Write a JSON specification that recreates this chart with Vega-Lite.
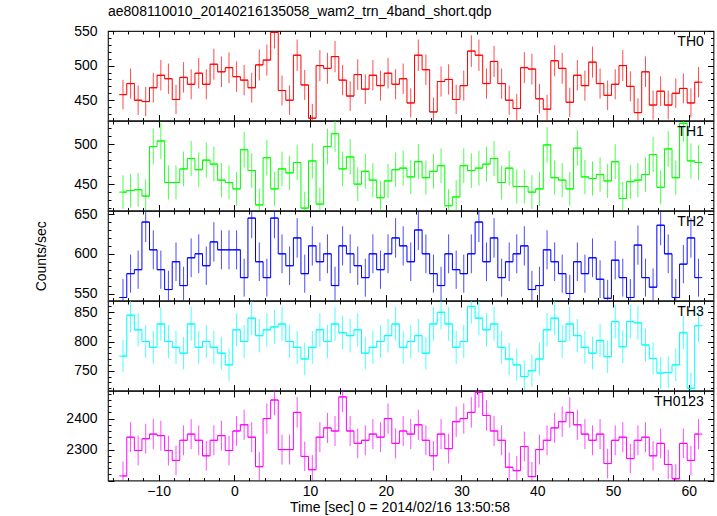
{
  "$schema": "https://vega.github.io/schema/vega-lite/v6.json",
  "background": "white",
  "padding": {"left": 33, "top": 5, "right": 5, "bottom": 0},
  "title": {"text": "ae808110010_20140216135058_wam2_trn_4band_short.qdp", "anchor": "start", "frame": "group", "font": "Liberation Sans", "fontSize": 14, "fontWeight": "normal", "color": "black", "offset": 4},
  "datasets": {
    "TH0": [
      {"t":-14.7,"r":458,"e":21.4},{"t":-13.7,"r":474,"e":21.8},{"t":-12.7,"r":450,"e":21.2},{"t":-11.7,"r":448,"e":21.2},{"t":-10.7,"r":468,"e":21.6},
      {"t":-9.7,"r":486,"e":22},{"t":-8.7,"r":481,"e":21.9},{"t":-7.7,"r":451,"e":21.2},{"t":-6.7,"r":483,"e":22},{"t":-5.7,"r":473,"e":21.7},
      {"t":-4.7,"r":489,"e":22.1},{"t":-3.7,"r":473,"e":21.7},{"t":-2.7,"r":502,"e":22.4},{"t":-1.7,"r":491,"e":22.2},{"t":-0.7,"r":497,"e":22.3},
      {"t":0.3,"r":484,"e":22},{"t":1.3,"r":479,"e":21.9},{"t":2.3,"r":468,"e":21.6},{"t":3.3,"r":501,"e":22.4},{"t":4.3,"r":508,"e":22.5},
      {"t":5.3,"r":548,"e":23.4},{"t":6.3,"r":464,"e":21.5},{"t":7.3,"r":450,"e":21.2},{"t":8.3,"r":515,"e":22.7},{"t":9.3,"r":472,"e":21.7},
      {"t":10.3,"r":424,"e":20.6},{"t":11.3,"r":500,"e":22.4},{"t":12.3,"r":496,"e":22.3},{"t":13.3,"r":513,"e":22.6},{"t":14.3,"r":479,"e":21.9},
      {"t":15.3,"r":456,"e":21.4},{"t":16.3,"r":487,"e":22.1},{"t":17.3,"r":466,"e":21.6},{"t":18.3,"r":486,"e":22},{"t":19.3,"r":471,"e":21.7},
      {"t":20.3,"r":489,"e":22.1},{"t":21.3,"r":473,"e":21.7},{"t":22.3,"r":481,"e":21.9},{"t":23.3,"r":446,"e":21.1},{"t":24.3,"r":515,"e":22.7},
      {"t":25.3,"r":494,"e":22.2},{"t":26.3,"r":433,"e":20.8},{"t":27.3,"r":477,"e":21.8},{"t":28.3,"r":480,"e":21.9},{"t":29.3,"r":451,"e":21.2},
      {"t":30.3,"r":471,"e":21.7},{"t":31.3,"r":521,"e":22.8},{"t":32.3,"r":515,"e":22.7},{"t":33.3,"r":474,"e":21.8},{"t":34.3,"r":506,"e":22.5},
      {"t":35.3,"r":474,"e":21.8},{"t":36.3,"r":450,"e":21.2},{"t":37.3,"r":438,"e":20.9},{"t":38.3,"r":497,"e":22.3},{"t":39.3,"r":495,"e":22.2},
      {"t":40.3,"r":452,"e":21.3},{"t":41.3,"r":437,"e":20.9},{"t":42.3,"r":507,"e":22.5},{"t":43.3,"r":496,"e":22.3},{"t":44.3,"r":447,"e":21.1},
      {"t":45.3,"r":486,"e":22},{"t":46.3,"r":471,"e":21.7},{"t":47.3,"r":505,"e":22.5},{"t":48.3,"r":474,"e":21.8},{"t":49.3,"r":457,"e":21.4},
      {"t":50.3,"r":473,"e":21.7},{"t":51.3,"r":500,"e":22.4},{"t":52.3,"r":470,"e":21.7},{"t":53.3,"r":432,"e":20.8},{"t":54.3,"r":491,"e":22.2},
      {"t":55.3,"r":443,"e":21},{"t":56.3,"r":463,"e":21.5},{"t":57.3,"r":443,"e":21},{"t":58.3,"r":460,"e":21.4},{"t":59.3,"r":467,"e":21.6},
      {"t":60.3,"r":446,"e":21.1},{"t":61.3,"r":476,"e":21.8}
    ],
    "TH1": [
      {"t":-14.7,"r":440,"e":21},{"t":-13.7,"r":442,"e":21},{"t":-12.7,"r":443,"e":21},{"t":-11.7,"r":435,"e":20.9},{"t":-10.7,"r":497,"e":22.3},
      {"t":-9.7,"r":504,"e":22.4},{"t":-8.7,"r":452,"e":21.3},{"t":-7.7,"r":452,"e":21.3},{"t":-6.7,"r":469,"e":21.7},{"t":-5.7,"r":482,"e":22},
      {"t":-4.7,"r":468,"e":21.6},{"t":-3.7,"r":480,"e":21.9},{"t":-2.7,"r":475,"e":21.8},{"t":-1.7,"r":455,"e":21.3},{"t":-0.7,"r":452,"e":21.3},
      {"t":0.3,"r":444,"e":21.1},{"t":1.3,"r":493,"e":22.2},{"t":2.3,"r":467,"e":21.6},{"t":3.3,"r":424,"e":20.6},{"t":4.3,"r":483,"e":22},
      {"t":5.3,"r":444,"e":21.1},{"t":6.3,"r":469,"e":21.7},{"t":7.3,"r":464,"e":21.5},{"t":8.3,"r":477,"e":21.8},{"t":9.3,"r":420,"e":20.5},
      {"t":10.3,"r":479,"e":21.9},{"t":11.3,"r":425,"e":20.6},{"t":12.3,"r":497,"e":22.3},{"t":13.3,"r":513,"e":22.6},{"t":14.3,"r":469,"e":21.7},
      {"t":15.3,"r":484,"e":22},{"t":16.3,"r":450,"e":21.2},{"t":17.3,"r":466,"e":21.6},{"t":18.3,"r":455,"e":21.3},{"t":19.3,"r":433,"e":20.8},
      {"t":20.3,"r":454,"e":21.3},{"t":21.3,"r":468,"e":21.6},{"t":22.3,"r":470,"e":21.7},{"t":23.3,"r":459,"e":21.4},{"t":24.3,"r":478,"e":21.9},
      {"t":25.3,"r":458,"e":21.4},{"t":26.3,"r":466,"e":21.6},{"t":27.3,"r":473,"e":21.7},{"t":28.3,"r":423,"e":20.6},{"t":29.3,"r":434,"e":20.8},
      {"t":30.3,"r":473,"e":21.7},{"t":31.3,"r":467,"e":21.6},{"t":32.3,"r":470,"e":21.7},{"t":33.3,"r":475,"e":21.8},{"t":34.3,"r":482,"e":22},
      {"t":35.3,"r":452,"e":21.3},{"t":36.3,"r":470,"e":21.7},{"t":37.3,"r":447,"e":21.1},{"t":38.3,"r":447,"e":21.1},{"t":39.3,"r":440,"e":21},
      {"t":40.3,"r":444,"e":21.1},{"t":41.3,"r":499,"e":22.3},{"t":42.3,"r":458,"e":21.4},{"t":43.3,"r":455,"e":21.3},{"t":44.3,"r":444,"e":21.1},
      {"t":45.3,"r":495,"e":22.2},{"t":46.3,"r":459,"e":21.4},{"t":47.3,"r":457,"e":21.4},{"t":48.3,"r":462,"e":21.5},{"t":49.3,"r":454,"e":21.3},
      {"t":50.3,"r":478,"e":21.9},{"t":51.3,"r":432,"e":20.8},{"t":52.3,"r":453,"e":21.3},{"t":53.3,"r":455,"e":21.3},{"t":54.3,"r":462,"e":21.5},
      {"t":55.3,"r":487,"e":22.1},{"t":56.3,"r":446,"e":21.1},{"t":57.3,"r":494,"e":22.2},{"t":58.3,"r":458,"e":21.4},{"t":59.3,"r":526,"e":22.9},
      {"t":60.3,"r":479,"e":21.9},{"t":61.3,"r":477,"e":21.8}
    ],
    "TH2": [
      {"t":-14.7,"r":545,"e":23.3},{"t":-13.7,"r":575,"e":24},{"t":-12.7,"r":580,"e":24.1},{"t":-11.7,"r":640,"e":25.3},{"t":-10.7,"r":605,"e":24.6},
      {"t":-9.7,"r":580,"e":24.1},{"t":-8.7,"r":555,"e":23.6},{"t":-7.7,"r":590,"e":24.3},{"t":-6.7,"r":560,"e":23.7},{"t":-5.7,"r":595,"e":24.4},
      {"t":-4.7,"r":600,"e":24.5},{"t":-3.7,"r":585,"e":24.2},{"t":-2.7,"r":615,"e":24.8},{"t":-1.7,"r":605,"e":24.6},{"t":-0.7,"r":605,"e":24.6},
      {"t":0.3,"r":605,"e":24.6},{"t":1.3,"r":570,"e":23.9},{"t":2.3,"r":645,"e":25.4},{"t":3.3,"r":590,"e":24.3},{"t":4.3,"r":570,"e":23.9},
      {"t":5.3,"r":645,"e":25.4},{"t":6.3,"r":600,"e":24.5},{"t":7.3,"r":585,"e":24.2},{"t":8.3,"r":620,"e":24.9},{"t":9.3,"r":575,"e":24},
      {"t":10.3,"r":610,"e":24.7},{"t":11.3,"r":590,"e":24.3},{"t":12.3,"r":600,"e":24.5},{"t":13.3,"r":560,"e":23.7},{"t":14.3,"r":610,"e":24.7},
      {"t":15.3,"r":600,"e":24.5},{"t":16.3,"r":585,"e":24.2},{"t":17.3,"r":570,"e":23.9},{"t":18.3,"r":600,"e":24.5},{"t":19.3,"r":580,"e":24.1},
      {"t":20.3,"r":600,"e":24.5},{"t":21.3,"r":620,"e":24.9},{"t":22.3,"r":610,"e":24.7},{"t":23.3,"r":590,"e":24.3},{"t":24.3,"r":630,"e":25.1},
      {"t":25.3,"r":600,"e":24.5},{"t":26.3,"r":575,"e":24},{"t":27.3,"r":560,"e":23.7},{"t":28.3,"r":600,"e":24.5},{"t":29.3,"r":580,"e":24.1},
      {"t":30.3,"r":575,"e":24},{"t":31.3,"r":600,"e":24.5},{"t":32.3,"r":640,"e":25.3},{"t":33.3,"r":590,"e":24.3},{"t":34.3,"r":620,"e":24.9},
      {"t":35.3,"r":570,"e":23.9},{"t":36.3,"r":590,"e":24.3},{"t":37.3,"r":600,"e":24.5},{"t":38.3,"r":610,"e":24.7},{"t":39.3,"r":555,"e":23.6},
      {"t":40.3,"r":560,"e":23.7},{"t":41.3,"r":605,"e":24.6},{"t":42.3,"r":590,"e":24.3},{"t":43.3,"r":575,"e":24},{"t":44.3,"r":550,"e":23.5},
      {"t":45.3,"r":590,"e":24.3},{"t":46.3,"r":575,"e":24},{"t":47.3,"r":595,"e":24.4},{"t":48.3,"r":568,"e":23.8},{"t":49.3,"r":544,"e":23.3},
      {"t":50.3,"r":592,"e":24.3},{"t":51.3,"r":570,"e":23.9},{"t":52.3,"r":545,"e":23.3},{"t":53.3,"r":611,"e":24.7},{"t":54.3,"r":570,"e":23.9},
      {"t":55.3,"r":558,"e":23.6},{"t":56.3,"r":636,"e":25.2},{"t":57.3,"r":600,"e":24.5},{"t":58.3,"r":545,"e":23.3},{"t":59.3,"r":587,"e":24.2},
      {"t":60.3,"r":620,"e":24.9},{"t":61.3,"r":570,"e":23.9}
    ],
    "TH3": [
      {"t":-14.7,"r":775,"e":27.8},{"t":-13.7,"r":845,"e":29.1},{"t":-12.7,"r":820,"e":28.6},{"t":-11.7,"r":800,"e":28.3},{"t":-10.7,"r":790,"e":28.1},
      {"t":-9.7,"r":830,"e":28.8},{"t":-8.7,"r":800,"e":28.3},{"t":-7.7,"r":790,"e":28.1},{"t":-6.7,"r":780,"e":27.9},{"t":-5.7,"r":830,"e":28.8},
      {"t":-4.7,"r":790,"e":28.1},{"t":-3.7,"r":800,"e":28.3},{"t":-2.7,"r":790,"e":28.1},{"t":-1.7,"r":780,"e":27.9},{"t":-0.7,"r":760,"e":27.6},
      {"t":0.3,"r":820,"e":28.6},{"t":1.3,"r":800,"e":28.3},{"t":2.3,"r":840,"e":29},{"t":3.3,"r":810,"e":28.5},{"t":4.3,"r":820,"e":28.6},
      {"t":5.3,"r":825,"e":28.7},{"t":6.3,"r":830,"e":28.8},{"t":7.3,"r":800,"e":28.3},{"t":8.3,"r":790,"e":28.1},{"t":9.3,"r":770,"e":27.7},
      {"t":10.3,"r":790,"e":28.1},{"t":11.3,"r":820,"e":28.6},{"t":12.3,"r":800,"e":28.3},{"t":13.3,"r":830,"e":28.8},{"t":14.3,"r":815,"e":28.5},
      {"t":15.3,"r":810,"e":28.5},{"t":16.3,"r":820,"e":28.6},{"t":17.3,"r":780,"e":27.9},{"t":18.3,"r":790,"e":28.1},{"t":19.3,"r":800,"e":28.3},
      {"t":20.3,"r":810,"e":28.5},{"t":21.3,"r":830,"e":28.8},{"t":22.3,"r":790,"e":28.1},{"t":23.3,"r":800,"e":28.3},{"t":24.3,"r":810,"e":28.5},
      {"t":25.3,"r":780,"e":27.9},{"t":26.3,"r":830,"e":28.8},{"t":27.3,"r":850,"e":29.2},{"t":28.3,"r":830,"e":28.8},{"t":29.3,"r":790,"e":28.1},
      {"t":30.3,"r":800,"e":28.3},{"t":31.3,"r":860,"e":29.3},{"t":32.3,"r":840,"e":29},{"t":33.3,"r":820,"e":28.6},{"t":34.3,"r":830,"e":28.8},
      {"t":35.3,"r":790,"e":28.1},{"t":36.3,"r":770,"e":27.7},{"t":37.3,"r":760,"e":27.6},{"t":38.3,"r":740,"e":27.2},{"t":39.3,"r":750,"e":27.4},
      {"t":40.3,"r":770,"e":27.7},{"t":41.3,"r":820,"e":28.6},{"t":42.3,"r":840,"e":29},{"t":43.3,"r":800,"e":28.3},{"t":44.3,"r":830,"e":28.8},
      {"t":45.3,"r":810,"e":28.5},{"t":46.3,"r":790,"e":28.1},{"t":47.3,"r":780,"e":27.9},{"t":48.3,"r":802,"e":28.3},{"t":49.3,"r":774,"e":27.8},
      {"t":50.3,"r":834,"e":28.9},{"t":51.3,"r":791,"e":28.1},{"t":52.3,"r":834,"e":28.9},{"t":53.3,"r":832,"e":28.8},{"t":54.3,"r":794,"e":28.2},
      {"t":55.3,"r":771,"e":27.8},{"t":56.3,"r":746,"e":27.3},{"t":57.3,"r":747,"e":27.3},{"t":58.3,"r":760,"e":27.6},{"t":59.3,"r":815,"e":28.5},
      {"t":60.3,"r":720,"e":26.8},{"t":61.3,"r":827,"e":28.8}
    ],
    "TH0123": [
      {"t":-14.7,"r":2215,"e":47.1},{"t":-13.7,"r":2340,"e":48.4},{"t":-12.7,"r":2297,"e":47.9},{"t":-11.7,"r":2335,"e":48.3},{"t":-10.7,"r":2350,"e":48.5},
      {"t":-9.7,"r":2345,"e":48.4},{"t":-8.7,"r":2297,"e":47.9},{"t":-7.7,"r":2265,"e":47.6},{"t":-6.7,"r":2330,"e":48.3},{"t":-5.7,"r":2350,"e":48.5},
      {"t":-4.7,"r":2330,"e":48.3},{"t":-3.7,"r":2280,"e":47.7},{"t":-2.7,"r":2330,"e":48.3},{"t":-1.7,"r":2345,"e":48.4},{"t":-0.7,"r":2297,"e":47.9},
      {"t":0.3,"r":2360,"e":48.6},{"t":1.3,"r":2380,"e":48.8},{"t":2.3,"r":2340,"e":48.4},{"t":3.3,"r":2245,"e":47.4},{"t":4.3,"r":2400,"e":49},
      {"t":5.3,"r":2460,"e":49.6},{"t":6.3,"r":2300,"e":48},{"t":7.3,"r":2300,"e":48},{"t":8.3,"r":2420,"e":49.2},{"t":9.3,"r":2278,"e":47.7},
      {"t":10.3,"r":2235,"e":47.3},{"t":11.3,"r":2340,"e":48.4},{"t":12.3,"r":2370,"e":48.7},{"t":13.3,"r":2360,"e":48.6},{"t":14.3,"r":2470,"e":49.7},
      {"t":15.3,"r":2360,"e":48.6},{"t":16.3,"r":2320,"e":48.2},{"t":17.3,"r":2330,"e":48.3},{"t":18.3,"r":2350,"e":48.5},{"t":19.3,"r":2340,"e":48.4},
      {"t":20.3,"r":2400,"e":49},{"t":21.3,"r":2320,"e":48.2},{"t":22.3,"r":2360,"e":48.6},{"t":23.3,"r":2350,"e":48.5},{"t":24.3,"r":2380,"e":48.8},
      {"t":25.3,"r":2330,"e":48.3},{"t":26.3,"r":2280,"e":47.7},{"t":27.3,"r":2350,"e":48.5},{"t":28.3,"r":2303,"e":48},{"t":29.3,"r":2390,"e":48.9},
      {"t":30.3,"r":2400,"e":49},{"t":31.3,"r":2420,"e":49.2},{"t":32.3,"r":2485,"e":49.8},{"t":33.3,"r":2410,"e":49.1},{"t":34.3,"r":2360,"e":48.6},
      {"t":35.3,"r":2330,"e":48.3},{"t":36.3,"r":2243,"e":47.4},{"t":37.3,"r":2232,"e":47.2},{"t":38.3,"r":2310,"e":48.1},{"t":39.3,"r":2213,"e":47},
      {"t":40.3,"r":2300,"e":48},{"t":41.3,"r":2330,"e":48.3},{"t":42.3,"r":2370,"e":48.7},{"t":43.3,"r":2390,"e":48.9},{"t":44.3,"r":2420,"e":49.2},
      {"t":45.3,"r":2380,"e":48.8},{"t":46.3,"r":2350,"e":48.5},{"t":47.3,"r":2330,"e":48.3},{"t":48.3,"r":2350,"e":48.5},{"t":49.3,"r":2255,"e":47.5},
      {"t":50.3,"r":2330,"e":48.3},{"t":51.3,"r":2340,"e":48.4},{"t":52.3,"r":2271,"e":47.7},{"t":53.3,"r":2330,"e":48.3},{"t":54.3,"r":2340,"e":48.4},
      {"t":55.3,"r":2280,"e":47.7},{"t":56.3,"r":2320,"e":48.2},{"t":57.3,"r":2252,"e":47.5},{"t":58.3,"r":2206,"e":47},{"t":59.3,"r":2320,"e":48.2},
      {"t":60.3,"r":2265,"e":47.6},{"t":61.3,"r":2350,"e":48.5}
    ]
  },
  "spacing": 0,
  "bounds": "flush",
  "vconcat": [
    {
      "width": 605.5, "height": 89.6,
      "layer": [
        {"data": {"name": "TH0"},
         "mark": {"type": "line", "interpolate": "step", "color": "#ff0000", "strokeWidth": 1, "clip": true},
         "encoding": {
           "x": {"field": "t", "type": "quantitative", "scale": {"domain": [-16.68, 63.28], "nice": false, "zero": false},
                 "axis": {"orient": "bottom", "values": [-16,-14,-12,-10,-8,-6,-4,-2,0,2,4,6,8,10,12,14,16,18,20,22,24,26,28,30,32,34,36,38,40,42,44,46,48,50,52,54,56,58,60,62], "labels": false, "title": null, "tickSize": {"condition": {"test": "datum.value % 10 === 0", "value": -6}, "value": -3}}},
           "y": {"field": "r", "type": "quantitative", "scale": {"domain": [420.5, 550], "nice": false, "zero": false},
                 "axis": {"orient": "left", "values": [430,440,450,460,470,480,490,500,510,520,530,540,550], "title": null, "format": "d", "labelExpr": "datum.value % 50 === 0 ? datum.label : ''", "tickSize": {"condition": {"test": "datum.value % 50 === 0", "value": -6}, "value": -3}}}
         }},
        {"data": {"name": "TH0"},
         "transform": [{"calculate": "datum.t - 0.5", "as": "t0"}, {"calculate": "datum.t + 0.5", "as": "t1"}],
         "mark": {"type": "rule", "color": "#ff0000", "strokeWidth": 1, "clip": true},
         "encoding": {
           "x": {"field": "t0", "type": "quantitative", "axis": {"orient": "top", "values": [-16,-14,-12,-10,-8,-6,-4,-2,0,2,4,6,8,10,12,14,16,18,20,22,24,26,28,30,32,34,36,38,40,42,44,46,48,50,52,54,56,58,60,62], "labels": false, "title": null, "tickSize": {"condition": {"test": "datum.value % 10 === 0", "value": -6}, "value": -3}}},
           "x2": {"field": "t1"},
           "y": {"field": "r", "type": "quantitative", "axis": {"orient": "right", "values": [430,440,450,460,470,480,490,500,510,520,530,540,550], "labels": false, "title": null, "tickSize": {"condition": {"test": "datum.value % 50 === 0", "value": -6}, "value": -3}}}
         }},
        {"data": {"name": "TH0"},
         "transform": [{"calculate": "datum.r - datum.e", "as": "lo"}, {"calculate": "datum.r + datum.e", "as": "hi"}],
         "mark": {"type": "rule", "color": "#ff0000", "strokeWidth": 1, "opacity": 0.7, "clip": true},
         "encoding": {"x": {"field": "t", "type": "quantitative", "axis": null}, "y": {"field": "lo", "type": "quantitative", "axis": null}, "y2": {"field": "hi"}}},
        {"data": {"values": [{"label": "TH0"}]},
         "mark": {"type": "text", "align": "right", "baseline": "alphabetic", "dy": 14.7, "font": "Liberation Sans", "fontSize": 14, "color": "black"},
         "encoding": {"text": {"field": "label"}, "x": {"datum": 62.0, "type": "quantitative", "axis": null}, "y": {"datum": 550, "type": "quantitative", "axis": null}}}
      ],
      "resolve": {"axis": {"x": "independent", "y": "independent"}}
    },
    {
      "width": 605.5, "height": 89.6,
      "layer": [
        {"data": {"name": "TH1"},
         "mark": {"type": "line", "interpolate": "step", "color": "#00ff00", "strokeWidth": 1, "clip": true},
         "encoding": {
           "x": {"field": "t", "type": "quantitative", "scale": {"domain": [-16.68, 63.28], "nice": false, "zero": false},
                 "axis": {"orient": "bottom", "values": [-16,-14,-12,-10,-8,-6,-4,-2,0,2,4,6,8,10,12,14,16,18,20,22,24,26,28,30,32,34,36,38,40,42,44,46,48,50,52,54,56,58,60,62], "labels": false, "title": null, "tickSize": {"condition": {"test": "datum.value % 10 === 0", "value": -6}, "value": -3}}},
           "y": {"field": "r", "type": "quantitative", "scale": {"domain": [416.9, 528.9], "nice": false, "zero": false},
                 "axis": {"orient": "left", "values": [420,430,440,450,460,470,480,490,500,510,520], "title": null, "format": "d", "labelExpr": "datum.value % 50 === 0 ? datum.label : ''", "tickSize": {"condition": {"test": "datum.value % 50 === 0", "value": -6}, "value": -3}}}
         }},
        {"data": {"name": "TH1"},
         "transform": [{"calculate": "datum.t - 0.5", "as": "t0"}, {"calculate": "datum.t + 0.5", "as": "t1"}],
         "mark": {"type": "rule", "color": "#00ff00", "strokeWidth": 1, "clip": true},
         "encoding": {
           "x": {"field": "t0", "type": "quantitative", "axis": {"orient": "top", "values": [-16,-14,-12,-10,-8,-6,-4,-2,0,2,4,6,8,10,12,14,16,18,20,22,24,26,28,30,32,34,36,38,40,42,44,46,48,50,52,54,56,58,60,62], "labels": false, "title": null, "tickSize": {"condition": {"test": "datum.value % 10 === 0", "value": -6}, "value": -3}}},
           "x2": {"field": "t1"},
           "y": {"field": "r", "type": "quantitative", "axis": {"orient": "right", "values": [420,430,440,450,460,470,480,490,500,510,520], "labels": false, "title": null, "tickSize": {"condition": {"test": "datum.value % 50 === 0", "value": -6}, "value": -3}}}
         }},
        {"data": {"name": "TH1"},
         "transform": [{"calculate": "datum.r - datum.e", "as": "lo"}, {"calculate": "datum.r + datum.e", "as": "hi"}],
         "mark": {"type": "rule", "color": "#00ff00", "strokeWidth": 1, "opacity": 0.7, "clip": true},
         "encoding": {"x": {"field": "t", "type": "quantitative", "axis": null}, "y": {"field": "lo", "type": "quantitative", "axis": null}, "y2": {"field": "hi"}}},
        {"data": {"values": [{"label": "TH1"}]},
         "mark": {"type": "text", "align": "right", "baseline": "alphabetic", "dy": 14.7, "font": "Liberation Sans", "fontSize": 14, "color": "black"},
         "encoding": {"text": {"field": "label"}, "x": {"datum": 62.0, "type": "quantitative", "axis": null}, "y": {"datum": 528.9, "type": "quantitative", "axis": null}}}
      ],
      "resolve": {"axis": {"x": "independent", "y": "independent"}}
    },
    {
      "width": 605.5, "height": 89.6,
      "layer": [
        {"data": {"name": "TH2"},
         "mark": {"type": "line", "interpolate": "step", "color": "#0000ff", "strokeWidth": 1, "clip": true},
         "encoding": {
           "x": {"field": "t", "type": "quantitative", "scale": {"domain": [-16.68, 63.28], "nice": false, "zero": false},
                 "axis": {"orient": "bottom", "values": [-16,-14,-12,-10,-8,-6,-4,-2,0,2,4,6,8,10,12,14,16,18,20,22,24,26,28,30,32,34,36,38,40,42,44,46,48,50,52,54,56,58,60,62], "labels": false, "title": null, "tickSize": {"condition": {"test": "datum.value % 10 === 0", "value": -6}, "value": -3}}},
           "y": {"field": "r", "type": "quantitative", "scale": {"domain": [541.1, 653.9], "nice": false, "zero": false},
                 "axis": {"orient": "left", "values": [550,560,570,580,590,600,610,620,630,640,650], "title": "Counts/sec", "titleX": -67, "titleY": 44.8, "titleAngle": -90, "titleBaseline": "middle", "titleAlign": "center", "format": "d", "labelExpr": "datum.value % 50 === 0 ? datum.label : ''", "tickSize": {"condition": {"test": "datum.value % 50 === 0", "value": -6}, "value": -3}}}
         }},
        {"data": {"name": "TH2"},
         "transform": [{"calculate": "datum.t - 0.5", "as": "t0"}, {"calculate": "datum.t + 0.5", "as": "t1"}],
         "mark": {"type": "rule", "color": "#0000ff", "strokeWidth": 1, "clip": true},
         "encoding": {
           "x": {"field": "t0", "type": "quantitative", "axis": {"orient": "top", "values": [-16,-14,-12,-10,-8,-6,-4,-2,0,2,4,6,8,10,12,14,16,18,20,22,24,26,28,30,32,34,36,38,40,42,44,46,48,50,52,54,56,58,60,62], "labels": false, "title": null, "tickSize": {"condition": {"test": "datum.value % 10 === 0", "value": -6}, "value": -3}}},
           "x2": {"field": "t1"},
           "y": {"field": "r", "type": "quantitative", "axis": {"orient": "right", "values": [550,560,570,580,590,600,610,620,630,640,650], "labels": false, "title": null, "tickSize": {"condition": {"test": "datum.value % 50 === 0", "value": -6}, "value": -3}}}
         }},
        {"data": {"name": "TH2"},
         "transform": [{"calculate": "datum.r - datum.e", "as": "lo"}, {"calculate": "datum.r + datum.e", "as": "hi"}],
         "mark": {"type": "rule", "color": "#0000ff", "strokeWidth": 1, "opacity": 0.7, "clip": true},
         "encoding": {"x": {"field": "t", "type": "quantitative", "axis": null}, "y": {"field": "lo", "type": "quantitative", "axis": null}, "y2": {"field": "hi"}}},
        {"data": {"values": [{"label": "TH2"}]},
         "mark": {"type": "text", "align": "right", "baseline": "alphabetic", "dy": 14.7, "font": "Liberation Sans", "fontSize": 14, "color": "black"},
         "encoding": {"text": {"field": "label"}, "x": {"datum": 62.0, "type": "quantitative", "axis": null}, "y": {"datum": 653.9, "type": "quantitative", "axis": null}}}
      ],
      "resolve": {"axis": {"x": "independent", "y": "independent"}}
    },
    {
      "width": 605.5, "height": 89.6,
      "layer": [
        {"data": {"name": "TH3"},
         "mark": {"type": "line", "interpolate": "step", "color": "#00ffff", "strokeWidth": 1, "clip": true},
         "encoding": {
           "x": {"field": "t", "type": "quantitative", "scale": {"domain": [-16.68, 63.28], "nice": false, "zero": false},
                 "axis": {"orient": "bottom", "values": [-16,-14,-12,-10,-8,-6,-4,-2,0,2,4,6,8,10,12,14,16,18,20,22,24,26,28,30,32,34,36,38,40,42,44,46,48,50,52,54,56,58,60,62], "labels": false, "title": null, "tickSize": {"condition": {"test": "datum.value % 10 === 0", "value": -6}, "value": -3}}},
           "y": {"field": "r", "type": "quantitative", "scale": {"domain": [716, 869.3], "nice": false, "zero": false},
                 "axis": {"orient": "left", "values": [720,730,740,750,760,770,780,790,800,810,820,830,840,850,860], "title": null, "format": "d", "labelExpr": "datum.value % 50 === 0 ? datum.label : ''", "tickSize": {"condition": {"test": "datum.value % 50 === 0", "value": -6}, "value": -3}}}
         }},
        {"data": {"name": "TH3"},
         "transform": [{"calculate": "datum.t - 0.5", "as": "t0"}, {"calculate": "datum.t + 0.5", "as": "t1"}],
         "mark": {"type": "rule", "color": "#00ffff", "strokeWidth": 1, "clip": true},
         "encoding": {
           "x": {"field": "t0", "type": "quantitative", "axis": {"orient": "top", "values": [-16,-14,-12,-10,-8,-6,-4,-2,0,2,4,6,8,10,12,14,16,18,20,22,24,26,28,30,32,34,36,38,40,42,44,46,48,50,52,54,56,58,60,62], "labels": false, "title": null, "tickSize": {"condition": {"test": "datum.value % 10 === 0", "value": -6}, "value": -3}}},
           "x2": {"field": "t1"},
           "y": {"field": "r", "type": "quantitative", "axis": {"orient": "right", "values": [720,730,740,750,760,770,780,790,800,810,820,830,840,850,860], "labels": false, "title": null, "tickSize": {"condition": {"test": "datum.value % 50 === 0", "value": -6}, "value": -3}}}
         }},
        {"data": {"name": "TH3"},
         "transform": [{"calculate": "datum.r - datum.e", "as": "lo"}, {"calculate": "datum.r + datum.e", "as": "hi"}],
         "mark": {"type": "rule", "color": "#00ffff", "strokeWidth": 1, "opacity": 0.7, "clip": true},
         "encoding": {"x": {"field": "t", "type": "quantitative", "axis": null}, "y": {"field": "lo", "type": "quantitative", "axis": null}, "y2": {"field": "hi"}}},
        {"data": {"values": [{"label": "TH3"}]},
         "mark": {"type": "text", "align": "right", "baseline": "alphabetic", "dy": 14.7, "font": "Liberation Sans", "fontSize": 14, "color": "black"},
         "encoding": {"text": {"field": "label"}, "x": {"datum": 62.0, "type": "quantitative", "axis": null}, "y": {"datum": 869.3, "type": "quantitative", "axis": null}}}
      ],
      "resolve": {"axis": {"x": "independent", "y": "independent"}}
    },
    {
      "width": 605.5, "height": 89.6,
      "layer": [
        {"data": {"name": "TH0123"},
         "mark": {"type": "line", "interpolate": "step", "color": "#ff00ff", "strokeWidth": 1, "clip": true},
         "encoding": {
           "x": {"field": "t", "type": "quantitative", "scale": {"domain": [-16.68, 63.28], "nice": false, "zero": false},
                 "axis": {"orient": "bottom", "values": [-16,-14,-12,-10,-8,-6,-4,-2,0,2,4,6,8,10,12,14,16,18,20,22,24,26,28,30,32,34,36,38,40,42,44,46,48,50,52,54,56,58,60,62], "format": "d", "labelPadding": 10, "labelExpr": "datum.value % 10 === 0 ? datum.label : ''", "title": "Time [sec] 0 = 2014/02/16 13:50:58", "titleX": 291.5, "titleY": 31, "titleBaseline": "alphabetic", "tickSize": {"condition": {"test": "datum.value % 10 === 0", "value": -6}, "value": -3}}},
           "y": {"field": "r", "type": "quantitative", "scale": {"domain": [2200, 2489], "nice": false, "zero": false},
                 "axis": {"orient": "left", "values": [2200,2220,2240,2260,2280,2300,2320,2340,2360,2380,2400,2420,2440,2460,2480], "title": null, "format": "d", "labelExpr": "datum.value % 100 === 0 && datum.value > 2200 ? datum.label : ''", "tickSize": {"condition": {"test": "datum.value % 100 === 0", "value": -6}, "value": -3}}}
         }},
        {"data": {"name": "TH0123"},
         "transform": [{"calculate": "datum.t - 0.5", "as": "t0"}, {"calculate": "datum.t + 0.5", "as": "t1"}],
         "mark": {"type": "rule", "color": "#ff00ff", "strokeWidth": 1, "clip": true},
         "encoding": {
           "x": {"field": "t0", "type": "quantitative", "axis": {"orient": "top", "values": [-16,-14,-12,-10,-8,-6,-4,-2,0,2,4,6,8,10,12,14,16,18,20,22,24,26,28,30,32,34,36,38,40,42,44,46,48,50,52,54,56,58,60,62], "labels": false, "title": null, "tickSize": {"condition": {"test": "datum.value % 10 === 0", "value": -6}, "value": -3}}},
           "x2": {"field": "t1"},
           "y": {"field": "r", "type": "quantitative", "axis": {"orient": "right", "values": [2200,2220,2240,2260,2280,2300,2320,2340,2360,2380,2400,2420,2440,2460,2480], "labels": false, "title": null, "tickSize": {"condition": {"test": "datum.value % 100 === 0", "value": -6}, "value": -3}}}
         }},
        {"data": {"name": "TH0123"},
         "transform": [{"calculate": "datum.r - datum.e", "as": "lo"}, {"calculate": "datum.r + datum.e", "as": "hi"}],
         "mark": {"type": "rule", "color": "#ff00ff", "strokeWidth": 1, "opacity": 0.7, "clip": true},
         "encoding": {"x": {"field": "t", "type": "quantitative", "axis": null}, "y": {"field": "lo", "type": "quantitative", "axis": null}, "y2": {"field": "hi"}}},
        {"data": {"values": [{"label": "TH0123"}]},
         "mark": {"type": "text", "align": "right", "baseline": "alphabetic", "dy": 14.7, "font": "Liberation Sans", "fontSize": 14, "color": "black"},
         "encoding": {"text": {"field": "label"}, "x": {"datum": 62.0, "type": "quantitative", "axis": null}, "y": {"datum": 2489, "type": "quantitative", "axis": null}}}
      ],
      "resolve": {"axis": {"x": "independent", "y": "independent"}}
    }
  ],
  "config": {
    "view": {"stroke": "#222222", "strokeWidth": 1.2},
    "axis": {"grid": false, "domain": false, "tickColor": "black", "tickWidth": 1, "labelFont": "Liberation Sans", "labelFontSize": 14, "labelColor": "black", "labelPadding": 17, "titleFont": "Liberation Sans", "titleFontSize": 14, "titleFontWeight": "normal", "titleColor": "black"}
  }
}
